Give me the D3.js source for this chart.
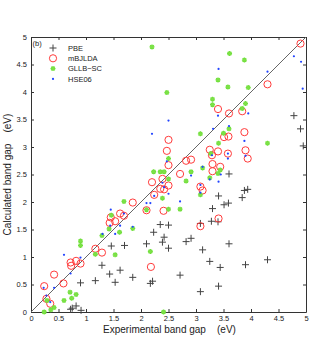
<!DOCTYPE html>
<html>
<head>
<meta charset="utf-8">
<script src="https://cdn.jsdelivr.net/npm/d3@7"></script>
<style>
  body { margin: 0; background: #fff; }
  text { font-family: "Liberation Sans", Arial, sans-serif; }
</style>
</head>
<body>
<svg id="chart"></svg>
<script>
// Experimental vs calculated band gaps (eV)
const pbe = [
  [4.78, 3.57], [4.90, 3.33], [4.95, 3.02], [3.60, 2.51], [3.88, 2.21], [3.94, 2.23],
  [3.84, 2.08], [3.41, 2.11], [3.59, 1.98], [3.51, 1.95], [3.30, 1.88], [2.35, 1.59],
  [2.50, 1.58], [3.08, 1.61], [3.28, 1.65], [3.40, 1.64], [2.23, 1.45], [2.42, 1.36],
  [2.39, 1.27], [2.50, 1.16], [2.82, 1.28], [2.91, 1.34], [3.60, 1.24], [3.12, 1.13],
  [3.25, 0.92], [3.44, 0.81], [3.90, 0.86], [4.30, 0.95], [2.71, 0.67], [3.08, 0.37],
  [3.41, 0.47], [2.21, 0.56], [2.17, 0.52], [1.85, 0.63], [2.10, 1.24], [1.70, 1.21],
  [1.46, 1.20], [1.29, 0.85], [1.43, 0.69], [1.62, 0.76], [0.90, 0.53], [1.17, 0.57],
  [1.53, 0.54], [0.72, 0.05], [0.75, 0.07], [0.82, 0.11], [0.91, 0.03]
];
const mbjlda = [
  [4.90, 4.88], [4.30, 4.14], [3.40, 3.69], [3.60, 3.61], [3.84, 3.65], [2.50, 3.13],
  [3.51, 3.18], [3.59, 3.19], [3.88, 3.27], [3.90, 2.94], [3.94, 2.79], [2.47, 2.93],
  [2.50, 2.67], [2.82, 2.75], [2.91, 2.77], [3.25, 2.95], [3.29, 2.85], [3.40, 2.92],
  [3.58, 2.88], [3.30, 2.69], [3.44, 2.64], [3.30, 2.56], [2.71, 2.51], [2.20, 2.36],
  [2.39, 2.42], [2.35, 2.24], [2.42, 2.23], [2.50, 2.30], [2.24, 2.13], [3.08, 2.28],
  [3.12, 2.21], [2.41, 1.84], [2.10, 1.85], [1.85, 1.99], [3.08, 1.56], [3.41, 1.70],
  [2.18, 0.82], [1.62, 1.79], [1.69, 1.75], [1.45, 1.72], [1.43, 1.62], [1.53, 1.65],
  [1.17, 1.15], [1.29, 1.08], [0.72, 0.90], [0.82, 0.93], [0.90, 0.88], [0.73, 0.84],
  [0.42, 0.68], [0.59, 0.52], [0.24, 0.47], [0.28, 0.24], [0.35, 0.15]
];
const gllbsc = [
  [2.20, 4.82], [3.61, 4.70], [3.88, 4.58], [3.40, 4.22], [3.58, 4.09], [3.95, 4.08],
  [2.47, 3.99], [3.30, 3.87], [3.30, 3.77], [3.84, 3.70], [3.90, 3.79], [3.08, 3.24],
  [3.50, 3.25], [3.60, 3.33], [4.30, 3.07], [3.41, 3.07], [2.50, 2.79], [3.27, 2.88],
  [3.44, 2.58], [3.40, 2.52], [3.12, 2.62], [2.91, 2.55], [2.23, 2.55], [2.35, 2.55],
  [2.42, 2.55], [2.50, 2.42], [2.39, 2.07], [2.82, 2.38], [3.25, 2.44], [3.08, 2.13],
  [2.50, 1.87], [2.71, 1.87], [2.10, 1.86], [1.69, 2.01], [1.85, 1.52], [1.46, 1.76],
  [1.42, 1.51], [1.61, 1.45], [1.29, 1.39], [0.90, 1.29], [0.90, 1.21], [1.17, 1.05],
  [1.53, 1.04], [2.17, 1.10], [0.71, 0.36], [0.82, 0.32], [0.60, 0.21], [0.74, 0.25],
  [0.29, 0.21], [0.36, 0.04], [0.42, 0.08], [0.24, 0.00], [2.41, 0.00]
];
const hse06 = [
  [3.41, 4.42], [4.30, 4.37], [4.78, 4.65], [4.91, 4.55], [4.94, 4.06], [3.95, 3.61],
  [3.40, 3.57], [2.50, 3.48], [2.20, 3.24], [3.31, 3.33], [3.88, 3.11], [3.60, 3.38],
  [3.58, 2.88], [3.58, 2.79], [3.90, 2.84], [3.45, 2.50], [3.12, 2.64], [2.91, 2.48],
  [2.39, 2.35], [2.42, 2.27], [2.24, 2.11], [2.50, 2.15], [2.71, 2.01], [3.25, 2.41],
  [3.08, 2.31], [3.08, 2.17], [3.41, 2.37], [2.47, 2.74], [3.29, 2.85], [2.10, 1.98],
  [2.17, 1.98], [1.69, 1.79], [1.45, 1.86], [1.44, 1.57], [1.62, 1.57], [1.85, 1.55],
  [1.30, 1.42], [1.53, 1.42], [0.60, 1.04], [0.90, 0.99], [0.72, 0.70], [0.23, 0.44],
  [0.42, 0.44], [0.28, 0.30], [0.35, 0.18]
];
const tickValues = [0, 0.5, 1, 1.5, 2, 2.5, 3, 3.5, 4, 4.5, 5];
const seriesNames = ["PBE", "mBJLDA", "GLLB\u2212SC", "HSE06"];

const W = 314, H = 338;
const margin = { top: 37, right: 8, bottom: 26, left: 31 };
const width = W - margin.left - margin.right;
const height = H - margin.top - margin.bottom;

const svg = d3.select("#chart").attr("width", W).attr("height", H);
const g = svg.append("g").attr("transform", `translate(${margin.left},${margin.top})`);

const x = d3.scaleLinear().domain([0, 5]).range([0, width]);
const y = d3.scaleLinear().domain([0, 5]).range([height, 0]);
const fmt = d => d3.format("")(d);

// Axes with inward ticks on all four sides
const axisColor = "#333";
const styleAxis = sel => {
  sel.select(".domain").attr("stroke", axisColor);
  sel.selectAll(".tick line").attr("stroke", axisColor);
  sel.selectAll(".tick text").attr("fill", "#222").style("font-size", "7.5px")
    .style("font-family", "'Liberation Sans', Arial, sans-serif");
};
g.append("g").attr("transform", `translate(0,${height})`)
  .call(d3.axisBottom(x).tickValues(tickValues).tickSize(-3).tickSizeOuter(0).tickPadding(4).tickFormat(fmt))
  .call(styleAxis);
g.append("g")
  .call(d3.axisTop(x).tickValues(tickValues).tickSize(-3).tickSizeOuter(0).tickFormat(""))
  .call(styleAxis);
g.append("g")
  .call(d3.axisLeft(y).tickValues(tickValues).tickSize(-3).tickSizeOuter(0).tickPadding(4).tickFormat(fmt))
  .call(styleAxis);
g.append("g").attr("transform", `translate(${width},0)`)
  .call(d3.axisRight(y).tickValues(tickValues).tickSize(-3).tickSizeOuter(0).tickFormat(""))
  .call(styleAxis);

// y = x reference line
g.append("line")
  .attr("x1", x(0)).attr("y1", y(0)).attr("x2", x(5)).attr("y2", y(5))
  .attr("stroke", "#666").attr("stroke-width", 1);

// Marker drawers
function plus(sel) {
  sel.append("path").attr("d", "M-3.5,0H3.5M0,-3.5V3.5")
    .attr("stroke", "#444").attr("stroke-width", 1).attr("fill", "none");
}
function circle(sel) {
  sel.append("circle").attr("r", 3.6)
    .attr("stroke", "#ff3b3b").attr("stroke-width", 1).attr("fill", "none");
}
function star(sel) {
  sel.append("path").attr("d", "M-2.5,0H2.5M0,-2.5V2.5M-1.8,-1.8L1.8,1.8M-1.8,1.8L1.8,-1.8")
    .attr("stroke", "#6fe03a").attr("stroke-width", 1.3).attr("fill", "none");
  sel.append("rect").attr("x", -1.3).attr("y", -1.3).attr("width", 2.6).attr("height", 2.6)
    .attr("fill", "#7ee048");
}
function dot(sel) {
  sel.append("circle").attr("r", 1.1).attr("fill", "#2244ff");
}

function drawSeries(data, marker) {
  g.append("g").selectAll("g")
    .data(data)
    .enter()
    .append("g")
    .attr("transform", d => `translate(${x(d[0])},${y(d[1])})`)
    .each(function() { marker(d3.select(this)); });
}
drawSeries(pbe, plus);
drawSeries(mbjlda, circle);
drawSeries(gllbsc, star);
drawSeries(hse06, dot);

// Panel label and legend
g.append("text").attr("x", 1.5).attr("y", 9).style("font-size", "7.5px").attr("fill", "#222").text("(b)");
const markers = [plus, circle, star, dot];
const legend = g.append("g").attr("transform", "translate(22,11)");
seriesNames.forEach((name, i) => {
  const row = legend.append("g").attr("transform", `translate(0,${i * 10.3})`);
  markers[i](row);
  row.append("text").attr("x", 15).attr("y", 0).attr("dy", "0.35em")
    .style("font-size", "7.5px").attr("fill", "#222").text(name);
});

// Axis labels
svg.append("text")
  .attr("x", margin.left + width / 2 + 1).attr("y", 333)
  .attr("text-anchor", "middle").style("font-size", "10px").style("white-space", "pre")
  .attr("fill", "#222").text("Experimental band gap    (eV)");
svg.append("text")
  .attr("transform", `translate(11,${margin.top + height / 2}) rotate(-90)`)
  .attr("text-anchor", "middle").style("font-size", "10px").style("white-space", "pre")
  .attr("fill", "#222").text("Calculated band gap    (eV)");
</script>
</body>
</html>
